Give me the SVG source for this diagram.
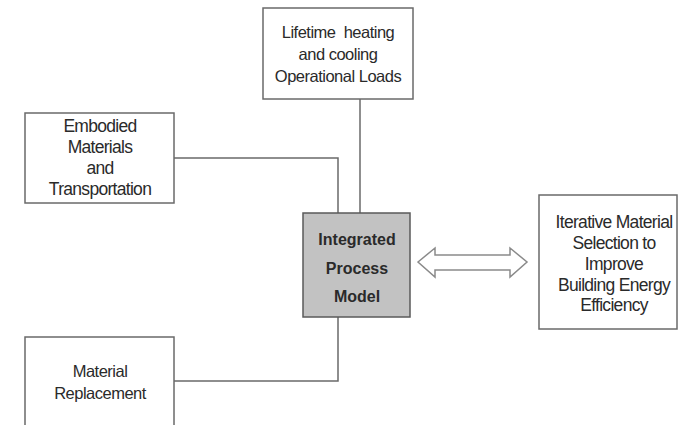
<svg xmlns="http://www.w3.org/2000/svg" width="678" height="425" viewBox="0 0 678 425">
  <style>
    .box { fill: #ffffff; stroke: #6a6a6a; stroke-width: 1.5; }
    .core { fill: #c2c2c2; stroke: #5a5a5a; stroke-width: 1.5; }
    .lbl { font-family: "Liberation Sans", Arial, sans-serif; font-size: 16.5px; fill: #2a2a2a; text-anchor: middle; letter-spacing: -0.5px; }
    .big { font-size: 17.5px; letter-spacing: -0.7px; }
    .bold { font-weight: bold; font-size: 16px; letter-spacing: 0; }
    .wire { fill: none; stroke: #6a6a6a; stroke-width: 1.5; }
    .dbl { fill: #ffffff; stroke: #8a8a8a; stroke-width: 1.5; stroke-linejoin: miter; }
  </style>
  <rect width="678" height="425" fill="#ffffff"/>

  <!-- connectors -->
  <g id="connectors">
    <polyline class="wire" points="360,99 360,213"/>
    <polyline class="wire" points="174,158 338,158 338,213"/>
    <polyline class="wire" points="174,381 338,381 338,317"/>
    <path class="dbl" d="M418,262 L435,248 L435,255 L510,255 L510,248 L527,262 L510,277 L510,270 L435,270 L435,277 Z"/>
  </g>

  <g id="operational-loads">
    <rect class="box" x="263" y="8" width="150" height="91"/>
    <text class="lbl" x="338" y="38" xml:space="preserve">Lifetime  heating</text>
    <text class="lbl" x="338" y="60">and cooling</text>
    <text class="lbl" x="338" y="82">Operational Loads</text>
  </g>

  <g id="embodied">
    <rect class="box" x="25" y="113" width="149" height="90"/>
    <text class="lbl big" x="100" y="132">Embodied</text>
    <text class="lbl big" x="100" y="153">Materials</text>
    <text class="lbl big" x="100" y="174">and</text>
    <text class="lbl big" x="100" y="195">Transportation</text>
  </g>

  <g id="process-model">
    <rect class="core" x="303" y="213" width="107" height="104"/>
    <text class="lbl bold" x="357" y="245">Integrated</text>
    <text class="lbl bold" x="357" y="274">Process</text>
    <text class="lbl bold" x="357" y="302">Model</text>
  </g>

  <g id="iterative-selection">
    <rect class="box" x="539" y="195" width="138" height="134"/>
    <text class="lbl big" x="614" y="228">Iterative Material</text>
    <text class="lbl big" x="614" y="249">Selection to</text>
    <text class="lbl big" x="614" y="270">Improve</text>
    <text class="lbl big" x="614" y="291">Building Energy</text>
    <text class="lbl big" x="614" y="311">Efficiency</text>
  </g>

  <g id="replacement">
    <rect class="box" x="25" y="337" width="149" height="100"/>
    <text class="lbl" x="100" y="377">Material</text>
    <text class="lbl" x="100" y="399">Replacement</text>
  </g>
</svg>
